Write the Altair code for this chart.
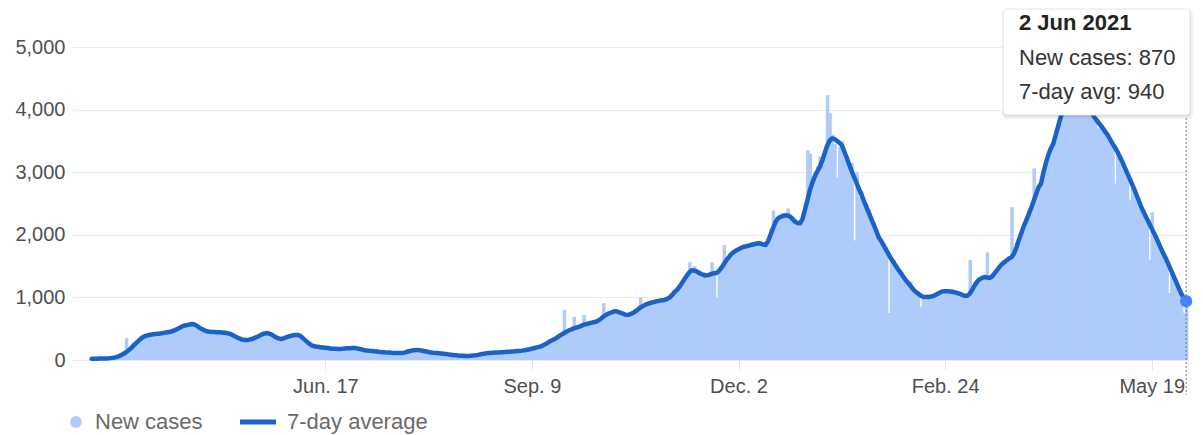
import altair as alt
import pandas as pd

# ---------------- data ----------------
start_date = "2020-03-14"   # first day of the series; last day is 2 Jun 2021

avg_7day = [
    20, 20, 21, 22, 23, 24, 25,
    27, 30, 35, 45, 60, 78, 100,
    125, 155, 190, 230, 270, 305, 340,
    370, 385, 395, 405, 410, 415, 420,
    425, 430, 438, 445, 450, 465, 480,
    500, 520, 540, 552, 560, 570, 575,
    565, 540, 510, 490, 470, 458, 450,
    448, 446, 444, 442, 440, 435, 430,
    420, 405, 385, 365, 345, 330, 320,
    320, 325, 335, 350, 365, 385, 405,
    420, 430, 425, 410, 385, 360, 345,
    335, 345, 360, 375, 385, 395, 400,
    400, 380, 345, 310, 275, 245, 225,
    215, 210, 205, 200, 195, 190, 185,
    180, 178, 175, 175, 178, 182, 186,
    188, 190, 190, 185, 175, 165, 155,
    150, 147, 145, 140, 135, 130, 125,
    122, 120, 118, 115, 113, 111, 110,
    112, 118, 128, 140, 150, 157, 160,
    158, 152, 145, 137, 128, 120, 115,
    112, 110, 105, 100, 95, 90, 85,
    80, 76, 72, 69, 67, 65, 65,
    67, 70, 75, 82, 90, 98, 105,
    110, 112, 115, 118, 120, 122, 125,
    127, 130, 132, 135, 138, 142, 145,
    150, 156, 163, 172, 182, 192, 202,
    210, 225, 245, 265, 290, 310, 330,
    355, 380, 405, 428, 450, 470, 488,
    505, 518, 530, 545, 560, 572, 583,
    593, 602, 610, 630, 660, 690, 720,
    740, 755, 770, 780, 770, 755, 740,
    725, 720, 730, 750, 775, 805, 835,
    860, 880, 895, 910, 920, 930, 940,
    948, 955, 960, 975, 1000, 1040, 1085,
    1120, 1170, 1230, 1290, 1350, 1400, 1435,
    1430, 1415, 1390, 1370, 1355, 1350, 1360,
    1375, 1385, 1390, 1420, 1470, 1530, 1590,
    1640, 1690, 1720, 1750, 1770, 1790, 1805,
    1815, 1825, 1835, 1845, 1855, 1865, 1860,
    1845, 1835, 1900, 2000, 2100, 2200, 2260,
    2285, 2300, 2310, 2310, 2290, 2250, 2210,
    2190, 2185, 2250, 2400, 2550, 2710, 2830,
    2930, 3010, 3080, 3180, 3300, 3420, 3500,
    3540, 3530, 3500, 3470, 3430, 3330, 3230,
    3120, 3020, 2920, 2830, 2730, 2640, 2540,
    2440, 2350, 2250, 2160, 2060, 1960, 1900,
    1830, 1760, 1690, 1620, 1560, 1500, 1440,
    1390, 1330, 1275, 1230, 1180, 1130, 1090,
    1060, 1030, 1010, 1005, 1005, 1010, 1020,
    1040, 1060, 1080, 1095, 1100, 1100, 1095,
    1090, 1080, 1070, 1055, 1040, 1025, 1025,
    1060, 1120, 1190, 1250, 1290, 1310, 1325,
    1320, 1310, 1330, 1380, 1430, 1480, 1530,
    1560, 1590, 1620, 1640, 1700, 1800, 1920,
    2030, 2140, 2230, 2330, 2430, 2540, 2650,
    2760, 2820, 3000, 3150, 3280, 3380, 3460,
    3600, 3740, 3880, 4000, 4100, 4180, 4240,
    4280, 4300, 4290, 4260, 4220, 4150, 4060,
    3990, 3920, 3860, 3810, 3760, 3710, 3650,
    3600, 3530, 3460, 3400, 3330, 3250, 3170,
    3080, 2990, 2900, 2810, 2720, 2620, 2520,
    2420, 2340, 2260, 2180, 2100, 2020, 1940,
    1850, 1760, 1680, 1600, 1510, 1420, 1330,
    1240, 1150, 1060, 1000, 940,
]

new_cases = [
    15, 18, 25, 20, 22, 30, 28,
    30, 35, 40, 55, 75, 95, 130,
    350, 160, 200, 260, 300, 330, 380,
    390, 360, 420, 400, 430, 380, 440,
    420, 450, 410, 470, 430, 490, 500,
    520, 510, 560, 540, 590, 560, 600,
    570, 530, 500, 480, 460, 440, 470,
    430, 460, 450, 420, 450, 440, 410,
    430, 390, 400, 350, 360, 320, 330,
    310, 340, 330, 360, 370, 400, 420,
    430, 440, 410, 420, 370, 350, 360,
    320, 360, 350, 390, 380, 410, 390,
    410, 360, 330, 300, 260, 240, 220,
    220, 200, 210, 195, 200, 185, 190,
    175, 185, 170, 180, 175, 190, 180,
    195, 185, 200, 180, 170, 160, 160,
    145, 150, 140, 145, 130, 135, 120,
    125, 115, 120, 110, 118, 105, 115,
    105, 125, 130, 150, 145, 165, 155,
    165, 145, 150, 130, 135, 115, 120,
    105, 115, 100, 105, 90, 95, 80,
    85, 70, 75, 65, 70, 60, 68,
    62, 75, 72, 88, 85, 105, 100,
    115, 105, 120, 112, 125, 118, 130,
    122, 135, 128, 140, 132, 150, 140,
    155, 150, 170, 165, 190, 185, 210,
    200, 235, 240, 280, 280, 320, 320,
    360, 370, 420, 800, 440, 500, 470,
    690, 500, 540, 520, 720, 560, 600,
    570, 620, 590, 650, 640, 910, 700,
    760, 730, 800, 760, 790, 740, 760,
    700, 740, 710, 770, 760, 830, 1000,
    850, 900, 870, 930, 900, 950, 920,
    970, 940, 990, 960, 1020, 1050, 1100,
    1100, 1200, 1200, 1320, 1330, 1560, 1420,
    1500, 1380, 1430, 1330, 1400, 1300, 1360,
    1560, 1380, 1000, 1450, 1480, 1835, 1560,
    1650, 1700, 1750, 1730, 1800, 1760, 1850,
    1790, 1850, 1880, 1810, 1900, 1830, 1870,
    1800, 1800, 1950, 2100, 2390, 2250, 2300,
    2250, 2350, 2280, 2420, 2300, 2200, 2230,
    2150, 2200, 2350, 2500, 3350, 3300, 2900,
    3000, 3100, 3250, 3200, 3350, 4230, 3940,
    3600, 3450, 2920, 3400, 3500, 3300, 3200,
    3100, 3150, 1910, 3000, 2600, 2700, 2500,
    2500, 2400, 2300, 2200, 2100, 2000, 1880,
    1850, 1800, 750, 1650, 1600, 1500, 1450,
    1400, 1350, 1300, 1200, 1250, 1100, 1100,
    1050, 850, 1000, 950, 1050, 1000, 1020,
    1060, 1080, 1100, 1050, 1120, 1080, 1100,
    1100, 1050, 1080, 1020, 1060, 1000, 1050,
    1600, 1150, 1250, 1300, 1280, 1350, 1300,
    1720, 1300, 1350, 1400, 1450, 1500, 1550,
    1600, 1550, 1650, 2440, 1720, 1850, 1950,
    2050, 2100, 2250, 2350, 2400, 3060, 2700,
    2800, 2850, 3050, 3200, 3300, 3400, 3500,
    3650, 3800, 3900, 4000, 4050, 4100, 4200,
    4250, 4150, 4300, 4200, 4000, 4100, 4000,
    3950, 3900, 3800, 3700, 3750, 3650, 3600,
    3550, 3500, 3400, 2820, 3300, 3200, 3100,
    3050, 2950, 2550, 2800, 2700, 2600, 2450,
    2400, 2350, 2200, 1600, 2360, 2000, 1900,
    1800, 1700, 1650, 1550, 1070, 1400, 1300,
    1200, 1100, 1000, 750, 870,
]

tick_dates = ["2020-06-17", "2020-09-09", "2020-12-02", "2021-02-24", "2021-05-19"]
tick_labels = ["Jun. 17", "Sep. 9", "Dec. 2", "Feb. 24", "May 19"]
y_ticks = [0, 1000, 2000, 3000, 4000, 5000]
legend_labels = ["New cases", "7-day average"]
tooltip_title = "2 Jun 2021"

# ---------------- styles ----------------
FONT = "Liberation Sans"
BAR_COLOR = "#aecbfa"
LINE_COLOR = "#1a62c8"
DOT_COLOR = "#4285f4"
AXIS_TEXT = "#4f4f4f"
LEGEND_TEXT = "#6a6a6a"

# ---------------- tables ----------------
dates = pd.date_range(start_date, periods=len(avg_7day), freq="D")
fmt = "%Y-%m-%dT%H:%M:%SZ"
df = pd.DataFrame({
    "date": dates.strftime(fmt),
    "start": (dates - pd.Timedelta(hours=12)).strftime(fmt),
    # slight overlap with the next day's column so no hairline seams appear
    "end": (dates + pd.Timedelta(hours=22)).strftime(fmt),
    "cases": new_cases,
    "zero": [0] * len(new_cases),
    "avg": avg_7day,
})
last = df.tail(1)
one = pd.DataFrame({"k": [0]})

x_scale = alt.Scale(
    type="utc",
    domain=[alt.DateTime(year=2020, month=3, date=6, utc=True),
            alt.DateTime(year=2021, month=6, date=2, hours=18, utc=True)],
)
y_scale = alt.Scale(domain=[0, 5000], nice=False, zero=True)

label_expr = "''"
for d, l in reversed(list(zip(tick_dates, tick_labels))):
    label_expr = f"utcFormat(datum.value, '%Y-%m-%d') == '{d}' ? '{l}' : ({label_expr})"

tick_values = []
for d in tick_dates:
    yy, mm, dd = (int(p) for p in d.split("-"))
    tick_values.append(alt.DateTime(year=yy, month=mm, date=dd, utc=True))

x_axis = alt.Axis(
    values=tick_values, labelExpr=label_expr, title=None, grid=False, domain=False,
    ticks=True, tickColor="#e2e2e2", tickSize=10, labelPadding=6,
    labelFont=FONT, labelFontSize=20, labelColor=AXIS_TEXT, labelFlush=False,
    labelOverlap=False,
)
y_axis = alt.Axis(
    values=y_ticks, labelExpr="format(datum.value, ',.0f')", title=None, grid=True,
    gridColor="#ececec", gridWidth=1, domain=False, ticks=False, labelPadding=7,
    labelFont=FONT, labelFontSize=20, labelColor=AXIS_TEXT,
)

bars = alt.Chart(df).mark_rect(color=BAR_COLOR).encode(
    x=alt.X("start:T", scale=x_scale, axis=x_axis),
    x2="end:T",
    y=alt.Y("cases:Q", scale=y_scale, axis=y_axis),
    y2="zero:Q",
)

line = alt.Chart(df).mark_line(
    color=LINE_COLOR, strokeWidth=4.5, strokeJoin="round", strokeCap="round"
).encode(
    x=alt.X("date:T", scale=x_scale),
    y=alt.Y("avg:Q", scale=y_scale),
)

rule = alt.Chart(last).mark_rule(color="#777777", strokeWidth=1, strokeDash=[2, 2]).encode(
    x=alt.X("date:T", scale=x_scale),
    y=alt.value(71),
    y2=alt.value(348),
)

dot = alt.Chart(last).mark_circle(size=150, color=DOT_COLOR, opacity=1).encode(
    x=alt.X("date:T", scale=x_scale),
    y=alt.Y("avg:Q", scale=y_scale),
)

# tooltip box
shadow2 = alt.Chart(one).mark_rect(color="#000000", opacity=0.05, cornerRadius=5).encode(
    x=alt.value(930), x2=alt.value(1121), y=alt.value(-37), y2=alt.value(72))
shadow1 = alt.Chart(one).mark_rect(color="#000000", opacity=0.08, cornerRadius=4).encode(
    x=alt.value(931), x2=alt.value(1119), y=alt.value(-37), y2=alt.value(70))
box = alt.Chart(one).mark_rect(color="#ffffff", stroke="#e4e4e4", strokeWidth=1, cornerRadius=4).encode(
    x=alt.value(931), x2=alt.value(1118), y=alt.value(-38), y2=alt.value(68))

tip_lines = [tooltip_title,
             f"New cases: {new_cases[-1]:,}",
             f"7-day avg: {avg_7day[-1]:,}"]
tip_title = alt.Chart(one).mark_text(
    align="left", baseline="alphabetic", font=FONT, fontSize=22, fontWeight="bold", color="#222222"
).encode(x=alt.value(947), y=alt.value(-17), text=alt.value(tip_lines[0]))
tip_l1 = alt.Chart(one).mark_text(
    align="left", baseline="alphabetic", font=FONT, fontSize=22, color="#333333"
).encode(x=alt.value(947), y=alt.value(18), text=alt.value(tip_lines[1]))
tip_l2 = alt.Chart(one).mark_text(
    align="left", baseline="alphabetic", font=FONT, fontSize=22, color="#333333"
).encode(x=alt.value(947), y=alt.value(52), text=alt.value(tip_lines[2]))

# legend
leg_dot = alt.Chart(one).mark_circle(size=140, color=BAR_COLOR, opacity=1).encode(
    x=alt.value(4), y=alt.value(375))
leg_t1 = alt.Chart(one).mark_text(
    align="left", baseline="alphabetic", font=FONT, fontSize=22, color=LEGEND_TEXT
).encode(x=alt.value(23), y=alt.value(382), text=alt.value(legend_labels[0]))
leg_line = alt.Chart(one).mark_rule(color=LINE_COLOR, strokeWidth=5).encode(
    x=alt.value(168), x2=alt.value(204), y=alt.value(375))
leg_t2 = alt.Chart(one).mark_text(
    align="left", baseline="alphabetic", font=FONT, fontSize=22, color=LEGEND_TEXT
).encode(x=alt.value(215), y=alt.value(382), text=alt.value(legend_labels[1]))

chart = alt.layer(
    bars, line, rule, dot, shadow2, shadow1, box, tip_title, tip_l1, tip_l2,
    leg_dot, leg_t1, leg_line, leg_t2,
).properties(
    width=1116, height=313,
    padding={"left": 64, "top": 39, "right": 7, "bottom": 75},
    autosize=alt.AutoSizeParams(type="none"),
).configure_view(stroke=None)

chart.save("out.html", embed_options={"renderer": "svg", "actions": False})
